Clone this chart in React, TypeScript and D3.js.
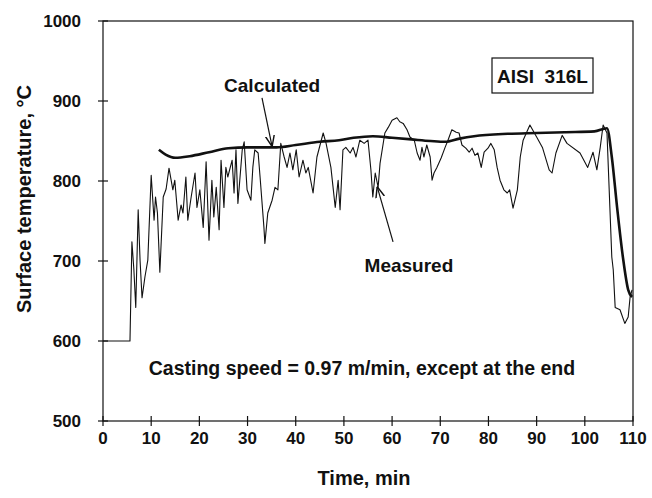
import * as d3 from 'd3';
import { useEffect } from 'react';

// time (min) and surface temperature (°C)
const measured: [number, number][] = [
  [0, 600], [5.6, 600], [6.0, 724], [6.4, 690], [6.8, 642], [7.3, 764], [7.7, 700], [8.1, 654],
  [8.7, 680], [9.3, 701], [10.0, 807], [10.6, 751], [10.9, 780], [11.3, 760], [11.8, 686],
  [12.5, 780], [13.1, 790], [13.7, 816], [14.5, 789], [14.9, 801], [15.6, 751], [16.2, 770],
  [16.6, 760], [17.2, 805], [17.6, 751], [18.3, 780], [19.1, 810], [19.5, 767], [20.1, 789],
  [20.8, 742], [21.4, 824], [22.0, 726], [22.6, 801], [23.0, 755], [23.5, 792], [24.1, 739],
  [24.5, 826], [25.1, 767], [25.5, 817], [25.9, 805], [26.8, 826], [27.2, 785], [27.6, 839],
  [28.0, 772], [28.9, 839], [29.3, 849], [29.9, 789], [30.7, 776], [31.1, 817], [31.5, 839],
  [32.2, 835], [32.6, 805], [33.4, 742], [33.6, 722], [34.2, 760], [35.1, 776], [35.7, 792],
  [36.3, 789], [36.9, 847], [37.6, 830], [38.2, 817], [38.8, 835], [39.4, 814], [40.1, 839],
  [40.7, 805], [41.5, 826], [42.1, 810], [42.6, 817], [43.6, 785], [44.4, 830], [45.7, 860],
  [46.3, 847], [47.3, 817], [48.2, 767], [48.8, 801], [49.2, 764], [49.8, 839], [50.4, 842],
  [51.3, 835], [51.9, 842], [52.5, 830], [53.3, 851], [54.2, 847], [55.0, 851], [55.6, 814],
  [56.0, 780], [56.5, 810], [57.1, 792], [57.5, 822], [58.5, 860], [59.2, 867], [60.0, 876],
  [61.0, 879], [61.6, 874], [62.3, 872], [63.1, 864], [63.7, 855], [64.6, 851], [65.2, 835],
  [65.8, 826], [66.2, 842], [66.6, 830], [67.2, 845], [67.9, 830], [68.3, 801], [68.7, 810],
  [69.3, 817], [70.2, 829], [71.0, 842], [71.6, 851], [72.4, 864], [73.3, 861], [73.9, 860],
  [74.5, 845], [75.3, 841], [76.0, 836], [76.6, 841], [77.2, 832], [77.8, 835], [78.5, 817],
  [79.1, 836], [79.9, 841], [80.5, 847], [81.2, 839], [81.8, 817], [82.4, 801], [83.2, 789],
  [83.9, 785], [84.4, 789], [85.1, 766], [86.0, 789], [86.6, 830], [87.2, 851], [88.6, 870],
  [90.0, 855], [91.2, 842], [92.6, 814], [93.2, 810], [94.0, 835], [95.3, 857], [96.3, 847],
  [99.0, 835], [100.6, 817], [101.7, 836], [102.5, 814], [103.2, 842], [103.8, 870], [104.6, 860],
  [105.2, 767], [105.6, 705], [105.9, 689], [106.3, 642], [107.3, 639], [108.3, 622], [109.0, 630],
  [109.4, 655], [109.8, 664],
];

const calculated: [number, number][] = [
  [11.6, 839], [13, 833], [15, 829], [18, 831], [22, 836], [26, 841], [30, 842], [36, 842],
  [40, 845], [45, 849], [49, 851], [52, 854], [56, 856], [60, 854], [64, 852], [68, 850],
  [71, 849], [74, 853], [77, 856], [84, 859], [90, 860], [96, 861], [102, 862], [104.6, 866],
  [105.6, 830], [106.7, 767], [107.9, 705], [109, 664], [109.8, 655],
];

const xTicks = [0, 10, 20, 30, 40, 50, 60, 70, 80, 90, 100, 110];
const yTicks = [500, 600, 700, 800, 900, 1000];

const font = '"Liberation Sans", Arial, sans-serif';

export default function App() {
  useEffect(() => {
    document.body.style.margin = '0';
  }, []);

  const width = 652;
  const height = 498;

  const x = d3.scaleLinear().domain([0, 110]).range([103, 633]);
  const y = d3.scaleLinear().domain([500, 1000]).range([421, 21]);

  const line = d3.line<[number, number]>().x(d => x(d[0])).y(d => y(d[1]));
  const smooth = d3.line<[number, number]>().x(d => x(d[0])).y(d => y(d[1])).curve(d3.curveMonotoneX);

  return (
    <svg width={width} height={height} style={{ display: 'block' }} fontFamily={font} fontWeight="bold">
      <defs>
        <marker id="head" viewBox="0 0 10 10" refX="10" refY="5" markerWidth="11" markerHeight="11"
          markerUnits="userSpaceOnUse" orient="auto">
          <path d="M0,1 L10,5 L0,9" fill="none" stroke="#111" strokeWidth="1.3" />
        </marker>
      </defs>

      {/* frame */}
      <rect x={x(0)} y={y(1000)} width={x(110) - x(0)} height={y(500) - y(1000)}
        fill="none" stroke="#111" strokeWidth={1.2} />

      {/* y ticks */}
      {yTicks.map(t => (
        <g key={t}>
          <line x1={x(0) - 5} x2={x(0) + 5} y1={y(t)} y2={y(t)} stroke="#111" strokeWidth={1.2} />
          <text x={81} y={y(t)} dy="0.35em" textAnchor="end" fontSize={17} fill="#111">{t}</text>
        </g>
      ))}

      {/* x ticks */}
      {xTicks.map(t => (
        <g key={t}>
          <line x1={x(t)} x2={x(t)} y1={y(500) - 5} y2={y(500) + 5} stroke="#111" strokeWidth={1.2} />
          <text x={x(t)} y={438} dy="0.35em" textAnchor="middle" fontSize={17} fill="#111">{t}</text>
        </g>
      ))}

      {/* series */}
      <path d={line(measured) ?? ''} fill="none" stroke="#111" strokeWidth={1.1} strokeLinejoin="round" />
      <path d={smooth(calculated) ?? ''} fill="none" stroke="#111" strokeWidth={2.6} strokeLinejoin="round" />

      {/* annotations */}
      <text x={x(35.1)} y={y(920)} dy="0.35em" textAnchor="middle" fontSize={19} fill="#111">Calculated</text>
      <line x1={x(33)} y1={y(904)} x2={x(35.1)} y2={y(843)} stroke="#111" strokeWidth={1.2} markerEnd="url(#head)" />

      <text x={x(63.5)} y={y(695)} dy="0.35em" textAnchor="middle" fontSize={19} fill="#111">Measured</text>
      <line x1={x(60.2)} y1={y(724)} x2={x(56.9)} y2={y(793)} stroke="#111" strokeWidth={1.2} markerEnd="url(#head)" />

      <rect x={492} y={58} width={101} height={35} fill="#fff" stroke="#111" strokeWidth={1.2} />
      <text x={542.5} y={76} dy="0.35em" textAnchor="middle" fontSize={19} fill="#111" xmlSpace="preserve">AISI  316L</text>

      <text x={x(9.5)} y={y(566)} dy="0.35em" fontSize={19.5} fill="#111">
        Casting speed = 0.97 m/min, except at the end
      </text>

      {/* axis titles */}
      <text x={364} y={478} dy="0.35em" textAnchor="middle" fontSize={20} fill="#111">Time, min</text>
      <text transform={`translate(24,199) rotate(-90)`} dy="0.35em" textAnchor="middle" fontSize={20} fill="#111">
        Surface temperature, °C
      </text>
    </svg>
  );
}
